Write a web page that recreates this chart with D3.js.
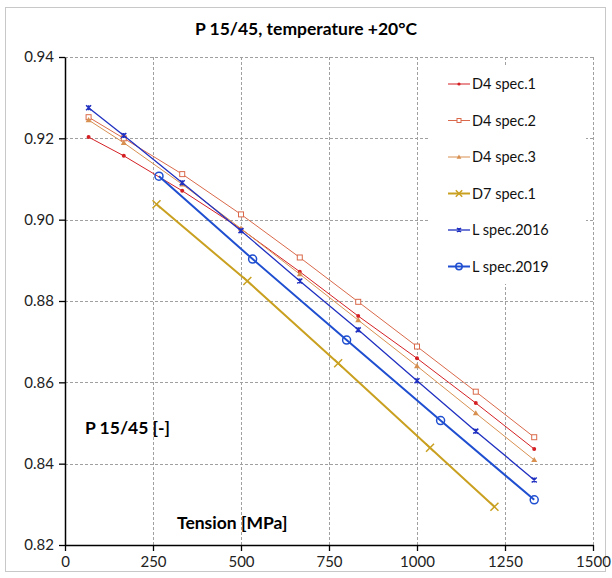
<!DOCTYPE html>
<html><head><meta charset="utf-8">
<script src="https://cdn.jsdelivr.net/npm/d3@7"></script>
<style>body{margin:0;background:#fff;} text{font-family:Lato,"Open Sans",sans-serif;}</style>
</head><body><svg id="chart" width="612" height="578"></svg>
<script>
const title = "P 15/45, temperature +20°C";
const xTicks = [0, 250, 500, 750, 1000, 1250, 1500];
const yTicks = [0.82, 0.84, 0.86, 0.88, 0.90, 0.92, 0.94];
const seriesNames = ["D4 spec.1", "D4 spec.2", "D4 spec.3", "D7 spec.1", "L spec.2016", "L spec.2019"];
const xD4 = [67, 167, 333, 500, 667, 833, 1000, 1167, 1333];
const yD4s1 = [0.9203, 0.9157, 0.9071, 0.8977, 0.8872, 0.8763, 0.8659, 0.8549, 0.8436];
const yD4s2 = [0.9252, 0.9200, 0.9112, 0.9013, 0.8907, 0.8798, 0.8688, 0.8577, 0.8465];
const yD4s3 = [0.9245, 0.9189, 0.9087, 0.8978, 0.8866, 0.8753, 0.8640, 0.8524, 0.8409];
const xD7 = [260, 518, 776, 1037, 1220];
const yD7 = [0.9038, 0.8849, 0.8647, 0.8439, 0.8294];
const xL16 = [67, 167, 333, 500, 667, 833, 1000, 1167, 1333];
const yL16 = [0.9275, 0.9207, 0.9091, 0.8973, 0.8849, 0.8729, 0.8604, 0.8480, 0.8360];
const xL19 = [267, 533, 800, 1067, 1333];
const yL19 = [0.9107, 0.8903, 0.8704, 0.8506, 0.8311];

const series = [
  {name: seriesNames[0], xs: xD4, ys: yD4s1, color: "#d42024", width: 1, marker: "dot"},
  {name: seriesNames[1], xs: xD4, ys: yD4s2, color: "#d9694a", width: 1, marker: "square"},
  {name: seriesNames[2], xs: xD4, ys: yD4s3, color: "#d89050", width: 1, marker: "triangle"},
  {name: seriesNames[3], xs: xD7, ys: yD7, color: "#c9a020", width: 2, marker: "cross"},
  {name: seriesNames[4], xs: xL16, ys: yL16, color: "#2030c0", width: 1.3, marker: "star"},
  {name: seriesNames[5], xs: xL19, ys: yL19, color: "#1f4fd0", width: 2, marker: "circle"}
];

const svg = d3.select("#chart");
const L = 65, R = 593, T = 57, B = 545;
const x = d3.scaleLinear().domain([0, 1500]).range([L, R]);
const y = d3.scaleLinear().domain([0.82, 0.94]).range([B, T]);

svg.append("rect").attr("x", 5.5).attr("y", 7.5).attr("width", 600).attr("height", 564)
  .attr("fill", "#fff").attr("stroke", "#c8c8c8");

svg.append("text").attr("x", 306).attr("y", 35).attr("text-anchor", "middle")
  .attr("font-size", 17.5).attr("font-weight", "bold").text(title);

// grid
const grid = svg.append("g").attr("stroke", "#a0a0a0").attr("stroke-dasharray", "3,2").attr("stroke-width", 1);
xTicks.filter(d => d > 0).forEach(d => grid.append("line")
  .attr("x1", Math.round(x(d)) + 0.5).attr("x2", Math.round(x(d)) + 0.5).attr("y1", T).attr("y2", B));
yTicks.filter(d => d > 0.82).forEach(d => grid.append("line")
  .attr("y1", Math.round(y(d)) + 0.5).attr("y2", Math.round(y(d)) + 0.5).attr("x1", L).attr("x2", R));

// axes
const xAxis = d3.axisBottom(x).tickValues(xTicks).tickFormat(d3.format("d")).tickSize(6).tickSizeOuter(0).tickPadding(5);
const gx = svg.append("g").attr("transform", `translate(0,${B})`).call(xAxis);
const yAxis = d3.axisLeft(y).tickValues(yTicks).tickFormat(d3.format(".2f")).tickSize(6).tickSizeOuter(0).tickPadding(5);
const gy = svg.append("g").attr("transform", `translate(${L},0)`).call(yAxis);
[gx, gy].forEach(g => {
  g.select(".domain").attr("stroke", "#000").attr("stroke-width", 1.5);
  g.selectAll(".tick line").attr("stroke", "#000").attr("stroke-width", 1.3);
  g.selectAll(".tick text").attr("font-size", 15).attr("fill", "#222").style("font-family", "Lato,'Open Sans',sans-serif");
});

// legend background
const lg = svg.append("g");
lg.append("rect").attr("x", 428).attr("y", 66).attr("width", 158).attr("height", 218).attr("fill", "#fff");

// axis titles
svg.append("text").attr("x", 85).attr("y", 434).attr("font-size", 17.5).attr("font-weight", "bold").text("P 15/45 [-]");
svg.append("text").attr("x", 177).attr("y", 529).attr("font-size", 17.5).attr("font-weight", "bold").text("Tension [MPa]");

function drawMarker(g, type, cx, cy, color, scale) {
  const s = scale || 1;
  if (type === "dot") {
    g.append("circle").attr("cx", cx).attr("cy", cy).attr("r", 2 * s).attr("fill", color);
  } else if (type === "square") {
    const h = 2.5 * s;
    g.append("rect").attr("x", cx - h).attr("y", cy - h).attr("width", 2 * h).attr("height", 2 * h)
      .attr("fill", "#fff").attr("stroke", color).attr("stroke-width", 1);
  } else if (type === "triangle") {
    const h = 3 * s;
    g.append("path").attr("d", `M${cx},${cy - h}L${cx + h},${cy + h * 0.7}L${cx - h},${cy + h * 0.7}Z`).attr("fill", color);
  } else if (type === "cross") {
    const h = 4 * s;
    g.append("path").attr("d", `M${cx - h},${cy - h}L${cx + h},${cy + h}M${cx - h},${cy + h}L${cx + h},${cy - h}`)
      .attr("stroke", color).attr("stroke-width", 1.5).attr("fill", "none");
  } else if (type === "star") {
    const h = 2.5 * s;
    g.append("path").attr("d", `M${cx - h},${cy - h}L${cx + h},${cy + h}M${cx - h},${cy + h}L${cx + h},${cy - h}M${cx},${cy - h}L${cx},${cy + h}`)
      .attr("stroke", color).attr("stroke-width", 1.5).attr("fill", "none");
  } else if (type === "circle") {
    g.append("circle").attr("cx", cx).attr("cy", cy).attr("r", 4 * s).attr("fill", "none")
      .attr("stroke", color).attr("stroke-width", 1.5);
  }
}

const line = d3.line().x(d => x(d[0])).y(d => y(d[1]));
const plot = svg.append("g");
series.forEach(s => {
  const pts = s.xs.map((v, i) => [v, s.ys[i]]);
  plot.append("path").datum(pts).attr("d", line).attr("fill", "none")
    .attr("stroke", s.color).attr("stroke-width", s.width);
  const mg = plot.append("g");
  pts.forEach(p => drawMarker(mg, s.marker, x(p[0]), y(p[1]), s.color, 1));
});

// legend entries
series.forEach((s, i) => {
  const ly = 84 + i * 36.5;
  lg.append("line").attr("x1", 448).attr("x2", 470).attr("y1", ly).attr("y2", ly)
    .attr("stroke", s.color).attr("stroke-width", s.width);
  drawMarker(lg, s.marker, 459, ly, s.color, 0.8);
  lg.append("text").attr("x", 472).attr("y", ly + 5).attr("font-size", 14.5).attr("fill", "#111").text(s.name);
});
</script></body></html>
